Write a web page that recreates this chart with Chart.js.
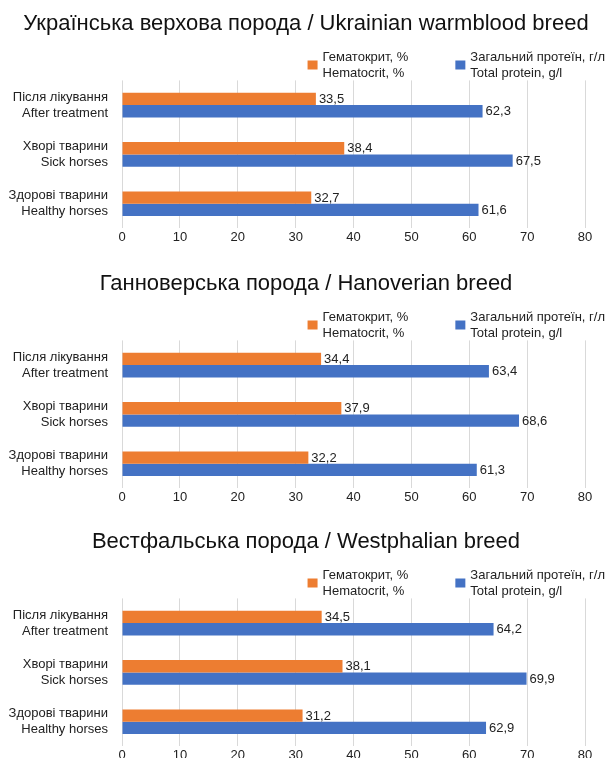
<!DOCTYPE html>
<html>
<head>
<meta charset="utf-8">
<script src="https://cdn.jsdelivr.net/npm/chart.js@4/dist/chart.umd.min.js"></script>
<style>
  html, body { margin: 0; padding: 0; background: #fff; overflow: hidden; }
  .panel { position: absolute; left: 0; width: 612px; height: 260px; }
</style>
</head>
<body>
<div class="panel" style="top:0px"><canvas id="c1"></canvas></div>
<div class="panel" style="top:260px"><canvas id="c2"></canvas></div>
<div class="panel" style="top:518px"><canvas id="c3"></canvas></div>
<script>
// ------------------------------
// Data
// ------------------------------
const groups = [
    ["Після лікування", "After treatment"],
    ["Хворі тварини", "Sick horses"],
    ["Здорові тварини", "Healthy horses"]
];

const seriesNames = [
    ["Гематокрит, %", "Hematocrit, %"],
    ["Загальний протеїн, г/л", "Total protein, g/l"]
];

const titles = [
    "Українська верхова порода / Ukrainian warmblood breed",
    "Ганноверська порода / Hanoverian breed",
    "Вестфальська порода / Westphalian breed"
];

// hematocrit, %
const hematUkr = [33.5, 38.4, 32.7];
const hematHan = [34.4, 37.9, 32.2];
const hematWes = [34.5, 38.1, 31.2];

// total protein, g/l
const protUkr = [62.3, 67.5, 61.6];
const protHan = [63.4, 68.6, 61.3];
const protWes = [64.2, 69.9, 62.9];

const xTicks = [0, 10, 20, 30, 40, 50, 60, 70, 80];

// ------------------------------
// Chart.js Code
// ------------------------------
const FONT = "'Liberation Sans', Arial, sans-serif";
const ORANGE = "#ED7D31";
const BLUE = "#4472C4";
const TEXT = "#222";

// value labels at the end of each bar
const valueLabels = {
    id: "valueLabels",
    afterDatasetsDraw(chart) {
        const ctx = chart.ctx;
        ctx.save();
        ctx.font = "13px " + FONT;
        ctx.fillStyle = TEXT;
        ctx.textAlign = "left";
        ctx.textBaseline = "middle";
        chart.data.datasets.forEach((ds, i) => {
            chart.getDatasetMeta(i).data.forEach((bar, j) => {
                const txt = ds.data[j].toFixed(1).replace(".", ",");
                ctx.fillText(txt, bar.x + 3, bar.y + 0.5);
            });
        });
        ctx.restore();
    }
};

// two-line legend, right aligned, square centred on the two lines
const twoLineLegend = {
    id: "twoLineLegend",
    afterDraw(chart) {
        const ctx = chart.ctx;
        ctx.save();
        ctx.font = "13px " + FONT;
        ctx.textBaseline = "middle";
        ctx.textAlign = "left";
        const line1 = 57, line2 = 73;
        let right = chart.width - 7;
        const ds = chart.data.datasets;
        for (let i = ds.length - 1; i >= 0; i--) {
            const lines = ds[i].label;
            const w = Math.max(...lines.map(t => ctx.measureText(t).width));
            const tx = right - w;
            ctx.fillStyle = TEXT;
            ctx.fillText(lines[0], tx, line1);
            ctx.fillText(lines[1], tx, line2);
            ctx.fillStyle = ds[i].backgroundColor;
            ctx.fillRect(tx - 15, (line1 + line2) / 2 - 4.5, 10, 9);
            right = tx - 15 - 47;
        }
        ctx.restore();
    }
};

function makeChart(id, title, hemat, prot) {
    new Chart(document.getElementById(id), {
        type: "bar",
        data: {
            labels: groups,
            datasets: [
                {
                    label: seriesNames[0],
                    data: hemat,
                    backgroundColor: ORANGE,
                    categoryPercentage: 0.5,
                    barPercentage: 1.0
                },
                {
                    label: seriesNames[1],
                    data: prot,
                    backgroundColor: BLUE,
                    categoryPercentage: 0.5,
                    barPercentage: 1.0
                }
            ]
        },
        options: {
            indexAxis: "y",
            responsive: true,
            maintainAspectRatio: false,
            animation: false,
            layout: {
                padding: { left: 8, right: 8, top: 0, bottom: 14 }
            },
            plugins: {
                title: {
                    display: true,
                    text: title,
                    color: "#111",
                    font: { family: FONT, size: 22, weight: "normal" },
                    padding: { top: 11, bottom: 43 }
                },
                legend: { display: false },
                tooltip: { enabled: false }
            },
            scales: {
                x: {
                    min: 0,
                    max: 80,
                    afterBuildTicks(axis) {
                        axis.ticks = xTicks.map(v => ({ value: v }));
                    },
                    grid: { color: "#d9d9d9", drawTicks: false },
                    border: { display: false },
                    ticks: {
                        color: TEXT,
                        font: { family: FONT, size: 13 },
                        padding: 1
                    }
                },
                y: {
                    afterFit(axis) { axis.width = 114; },
                    grid: { display: false, drawTicks: false },
                    border: { display: false },
                    ticks: {
                        color: TEXT,
                        font: { family: FONT, size: 13, lineHeight: 1.25 },
                        padding: 14
                    }
                },
                // empty spacer on the right so the title stays centred on the page
                yRight: {
                    type: "linear",
                    position: "right",
                    afterFit(axis) { axis.width = 19; },
                    grid: { display: false, drawTicks: false },
                    border: { display: false },
                    ticks: { display: false }
                }
            }
        },
        plugins: [valueLabels, twoLineLegend]
    });
}

makeChart("c1", titles[0], hematUkr, protUkr);
makeChart("c2", titles[1], hematHan, protHan);
makeChart("c3", titles[2], hematWes, protWes);
</script>
</body>
</html>
